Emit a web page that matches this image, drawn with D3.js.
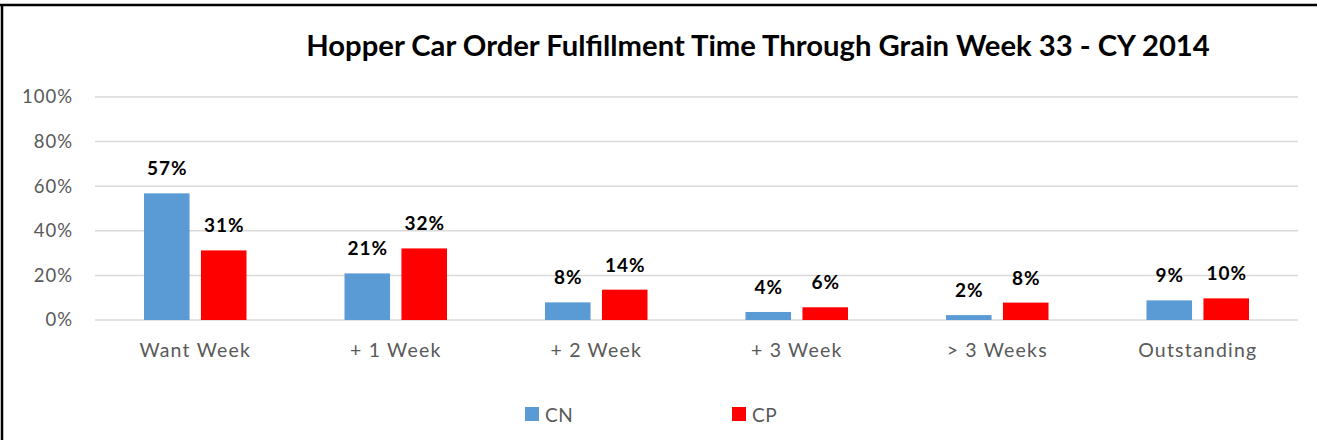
<!DOCTYPE html>
<html>
<head>
<meta charset="utf-8">
<script src="https://cdn.jsdelivr.net/npm/d3@7"></script>
<style>
  body { margin: 0; background: #fff; }
  svg text { font-family: Lato, "Open Sans", sans-serif; }
</style>
</head>
<body>
<script>
var categories = ["Want Week", "+ 1 Week", "+ 2 Week", "+ 3 Week", "> 3 Weeks", "Outstanding"];
var seriesNames = ["CN", "CP"];
var cnValues = [56.8, 20.9, 7.9, 3.6, 2.2, 8.8];
var cpValues = [31.2, 32.1, 13.6, 5.7, 7.8, 9.7];
var yTicks = [0, 20, 40, 60, 80, 100];
var colors = {CN: "#5b9bd5", CP: "#ff0000"};

var W = 1317, H = 440;
var svg = d3.select("body").append("svg").attr("width", W).attr("height", H);

// frame: only left and top edges are visible
svg.append("line").attr("x1", 2).attr("x2", 2).attr("y1", 4).attr("y2", H)
    .attr("stroke", "#000").attr("stroke-width", 2.5);
svg.append("line").attr("x1", 0).attr("x2", W).attr("y1", 5).attr("y2", 5)
    .attr("stroke", "#000").attr("stroke-width", 2.5);

var x = d3.scaleBand().domain(categories).range([95, 1298]);
var bw = x.bandwidth();
var x1 = d3.scaleBand().domain(seriesNames).range([bw / 2 - 51.25, bw / 2 + 51.25]).paddingInner(0.2);
var y = d3.scaleLinear().domain([0, 100]).range([320, 97]);

// title, sized to fit its width in the original
var title = svg.append("text")
    .attr("x", 758).attr("y", 56)
    .attr("text-anchor", "middle")
    .attr("font-weight", "bold")
    .attr("font-size", 28)
    .attr("fill", "#000")
    .text("Hopper Car Order Fulfillment Time Through Grain Week 33 - CY 2014");
var tw = title.node().getComputedTextLength();
title.attr("font-size", 28 * 904 / tw);

// gridlines
svg.append("g").selectAll("line")
    .data(yTicks)
    .enter().append("line")
    .attr("x1", 95).attr("x2", 1298)
    .attr("y1", d => y(d)).attr("y2", d => y(d))
    .attr("stroke", "#d9d9d9").attr("stroke-width", 1.5);

var yAxis = d3.axisLeft(y).tickValues(yTicks).tickFormat(d => d + "%").tickSize(0).tickPadding(0);
var ya = svg.append("g").attr("transform", "translate(73,0)").call(yAxis);
ya.select(".domain").remove();
ya.selectAll("text").attr("font-size", 18.5).attr("fill", "#595959")
    .attr("letter-spacing", 1)
    .style("font-family", "Lato, 'Open Sans', sans-serif");

var xAxis = d3.axisBottom(x).tickSize(0).tickPadding(0);
var xa = svg.append("g").attr("transform", "translate(0,343)").call(xAxis);
xa.select(".domain").remove();
xa.selectAll("text").attr("font-size", 19.5).attr("fill", "#595959")
    .attr("letter-spacing", 1.2)
    .style("font-family", "Lato, 'Open Sans', sans-serif");

var rows = categories.map((c, i) => ({cat: c, CN: cnValues[i], CP: cpValues[i]}));

var groups = svg.append("g").selectAll("g")
    .data(rows)
    .enter().append("g")
    .attr("transform", d => "translate(" + x(d.cat) + ",0)");

groups.selectAll("rect")
    .data(d => seriesNames.map(s => ({s: s, v: d[s]})))
    .enter().append("rect")
    .attr("x", d => x1(d.s))
    .attr("width", x1.bandwidth())
    .attr("y", d => y(d.v))
    .attr("height", d => y(0) - y(d.v))
    .attr("fill", d => colors[d.s]);

groups.selectAll("text.lbl")
    .data(d => seriesNames.map(s => ({s: s, v: d[s]})))
    .enter().append("text")
    .attr("class", "lbl")
    .attr("x", d => x1(d.s) + x1.bandwidth() / 2 + 0.5)
    .attr("y", d => y(d.v) - 18)
    .attr("text-anchor", "middle")
    .attr("font-weight", "bold")
    .attr("font-size", 19)
    .attr("letter-spacing", 1)
    .attr("fill", "#000")
    .text(d => Math.round(d.v) + "%");

// legend
var legendX = [525, 732];
var legend = svg.append("g").selectAll("g")
    .data(seriesNames)
    .enter().append("g")
    .attr("transform", (d, i) => "translate(" + legendX[i] + ",407)");
legend.append("rect").attr("width", 14).attr("height", 14).attr("fill", d => colors[d]);
legend.append("text").attr("x", 20).attr("y", 14.5)
    .attr("font-size", 19).attr("fill", "#595959")
    .attr("letter-spacing", 0.5)
    .text(d => d);
</script>
</body>
</html>
